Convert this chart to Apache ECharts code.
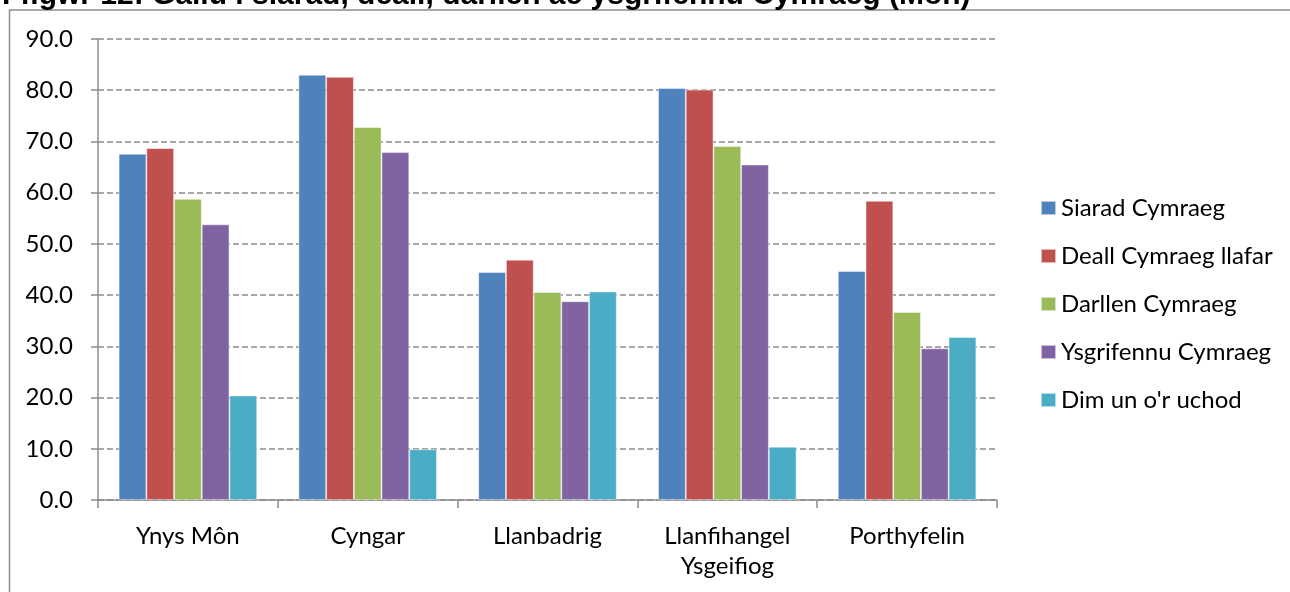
<html>
<head>
<meta charset="utf-8">
<script src="https://cdn.jsdelivr.net/npm/echarts@6/dist/echarts.min.js"></script>
<style>
  body { margin:0; background:#fff; }
  #chart { width:1290px; height:592px; }
</style>
</head>
<body>
<div id="chart"></div>
<script>
// categories and values
var places = ['Ynys Môn', 'Cyngar', 'Llanbadrig', 'Llanfihangel\nYsgeifiog', 'Porthyfelin'];
var seriesNames = ['Siarad Cymraeg', 'Deall Cymraeg llafar', 'Darllen Cymraeg', 'Ysgrifennu Cymraeg', "Dim un o'r uchod"];
var siarad     = [67.6, 83.0, 44.5, 80.4, 44.7];
var deall      = [68.7, 82.6, 46.9, 80.1, 58.4];
var darllen    = [58.8, 72.8, 40.6, 69.1, 36.7];
var ysgrifennu = [53.8, 67.9, 38.8, 65.5, 29.6];
var dimUn      = [20.4,  9.9, 40.7, 10.4, 31.8];
var colours = ['#4F81BD', '#C0504D', '#9BBB59', '#8064A2', '#4BACC6'];

var allData = [siarad, deall, darllen, ysgrifennu, dimUn];
var font = 'Lato, "Open Sans", sans-serif';

var series = [];
for (var i = 0; i < allData.length; i++) {
  series.push({
    name: seriesNames[i],
    type: 'bar',
    data: allData[i],
    barGap: '0%',
    barCategoryGap: '23%',
    itemStyle: { color: colours[i], borderColor: 'rgba(255,255,255,0.6)', borderWidth: 0.8 }
  });
}

var myChart = echarts.init(document.getElementById('chart'));
var option = {
  animation: false,
  color: colours,
  graphic: [
    {
      type: 'rect',
      shape: { x: 9.5, y: 10, width: 1300, height: 600 },
      style: { fill: 'none', stroke: '#8c8c8c', lineWidth: 1.5 }
    },
    {
      type: 'text',
      x: 2, y: 11,
      style: {
        text: 'Ffigwr 12: Gallu i siarad, deall, darllen ac ysgrifennu Cymraeg (Môn)',
        font: 'bold 30px "Liberation Sans", Arial, sans-serif',
        fill: '#000',
        verticalAlign: 'bottom'
      }
    }
  ],
  grid: { left: 98, right: 293, top: 39, bottom: 92 },
  legend: {
    orient: 'vertical',
    left: 1035,
    top: 191,
    icon: 'rect',
    itemWidth: 15,
    itemHeight: 14,
    itemGap: 24,
    data: seriesNames,
    textStyle: { fontFamily: font, fontSize: 24, lineHeight: 24, color: '#000' }
  },
  xAxis: {
    type: 'category',
    data: places,
    axisLine: { lineStyle: { color: '#8c8c8c', width: 1.5 } },
    axisTick: { show: true, length: 8, lineStyle: { color: '#8c8c8c', width: 1.5 } },
    axisLabel: { color: '#000', fontFamily: font, fontSize: 24, margin: 21, lineHeight: 30, interval: 0 }
  },
  yAxis: {
    type: 'value',
    min: 0,
    max: 90,
    interval: 10,
    axisLine: { show: true, lineStyle: { color: '#8c8c8c', width: 1.5 } },
    axisTick: { show: true, length: 7, lineStyle: { color: '#8c8c8c', width: 1.5 } },
    axisLabel: {
      color: '#000', fontFamily: font, fontSize: 24, margin: 25,
      formatter: function (v) { return v.toFixed(1); }
    },
    splitLine: { lineStyle: { color: '#8c8c8c', type: [6, 3], width: 1.5 } }
  },
  series: series
};
myChart.setOption(option);
</script>
</body>
</html>
